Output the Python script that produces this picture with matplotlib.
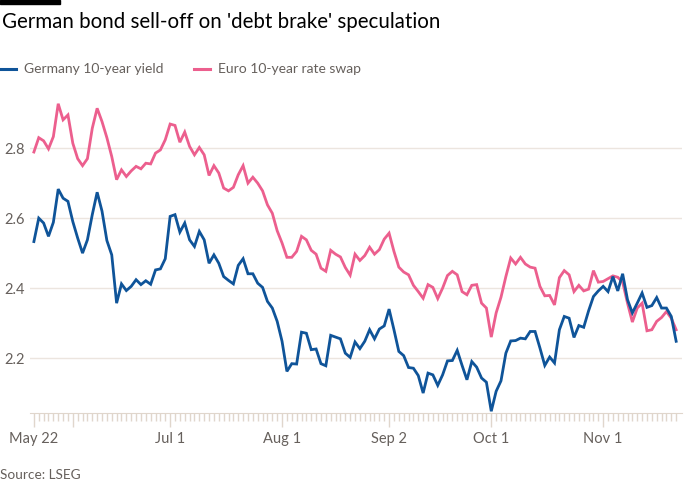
import matplotlib
matplotlib.use("Agg")
import matplotlib.pyplot as plt
import pandas as pd

# business days, 22 May - 22 Nov 2024
dates = pd.bdate_range("2024-05-22", "2024-11-22")

germany_10y = [
    2.533, 2.600, 2.586, 2.548, 2.588, 2.683, 2.657, 2.648, 2.590, 2.543,
    2.500, 2.538, 2.610, 2.674, 2.620, 2.536, 2.495, 2.357, 2.412, 2.393,
    2.405, 2.424, 2.410, 2.421, 2.411, 2.452, 2.455, 2.484, 2.605, 2.610,
    2.560, 2.586, 2.538, 2.519, 2.562, 2.538, 2.471, 2.495, 2.471, 2.433,
    2.422, 2.412, 2.465, 2.484, 2.441, 2.441, 2.414, 2.402, 2.362, 2.343,
    2.305, 2.248, 2.162, 2.184, 2.183, 2.274, 2.271, 2.224, 2.226, 2.184,
    2.178, 2.265, 2.260, 2.255, 2.214, 2.202, 2.246, 2.227, 2.248, 2.281,
    2.255, 2.283, 2.292, 2.340, 2.281, 2.219, 2.207, 2.173, 2.171, 2.150,
    2.100, 2.157, 2.152, 2.122, 2.152, 2.192, 2.193, 2.222, 2.179, 2.138,
    2.190, 2.174, 2.143, 2.131, 2.048, 2.105, 2.135, 2.214, 2.249, 2.250,
    2.257, 2.255, 2.276, 2.276, 2.229, 2.179, 2.203, 2.186, 2.281, 2.319,
    2.314, 2.259, 2.293, 2.288, 2.335, 2.376, 2.392, 2.405, 2.390, 2.433,
    2.392, 2.441, 2.367, 2.329, 2.357, 2.386, 2.345, 2.350, 2.373, 2.343,
    2.343, 2.319, 2.248,
]

euro_swap_10y = [
    2.789, 2.830, 2.821, 2.798, 2.833, 2.927, 2.881, 2.895, 2.814, 2.770,
    2.750, 2.770, 2.857, 2.914, 2.876, 2.830, 2.776, 2.710, 2.738, 2.719,
    2.735, 2.748, 2.741, 2.757, 2.755, 2.786, 2.795, 2.824, 2.869, 2.865,
    2.817, 2.846, 2.805, 2.781, 2.802, 2.781, 2.722, 2.750, 2.729, 2.686,
    2.678, 2.688, 2.724, 2.750, 2.700, 2.717, 2.700, 2.678, 2.638, 2.614,
    2.564, 2.529, 2.488, 2.488, 2.505, 2.548, 2.538, 2.508, 2.497, 2.457,
    2.448, 2.508, 2.497, 2.489, 2.459, 2.437, 2.497, 2.479, 2.493, 2.517,
    2.497, 2.510, 2.540, 2.557, 2.505, 2.460, 2.446, 2.438, 2.408, 2.390,
    2.371, 2.410, 2.402, 2.370, 2.400, 2.436, 2.448, 2.438, 2.390, 2.381,
    2.408, 2.410, 2.357, 2.343, 2.260, 2.329, 2.374, 2.433, 2.486, 2.469,
    2.488, 2.469, 2.460, 2.457, 2.405, 2.378, 2.379, 2.352, 2.430, 2.450,
    2.438, 2.390, 2.408, 2.392, 2.397, 2.450, 2.417, 2.419, 2.427, 2.435,
    2.431, 2.417, 2.357, 2.303, 2.343, 2.357, 2.278, 2.281, 2.305, 2.316,
    2.333, 2.314, 2.281,
]

tick_dates = ["2024-05-22", "2024-06-03", "2024-07-01", "2024-08-01",
              "2024-09-02", "2024-10-01", "2024-11-01"]
tick_labels = ["May 22", "", "Jul 1", "Aug 1", "Sep 2", "Oct 1", "Nov 1"]
y_ticks = [2.2, 2.4, 2.6, 2.8]

BLUE = "#0f5499"
PINK = "#ec5f8e"
GREY = "#66605c"
GRID = "#ece5df"
FONT = "Lato"

fig = plt.figure(figsize=(7, 5), dpi=100)
ax = fig.add_axes([30 / 700, 1 - 413 / 500, 652 / 700, 318 / 500])

x = list(range(len(dates)))
ax.plot(x, euro_swap_10y, color=PINK, lw=2.0, solid_joinstyle="miter")
ax.plot(x, germany_10y, color=BLUE, lw=2.0, solid_joinstyle="miter")

ax.set_xlim(-0.8, 133.2)
ax.set_ylim(2.043, 2.952)

ax.set_yticks(y_ticks)
ax.set_yticklabels([f"{v:.1f}" for v in y_ticks], fontsize=10.5,
                   color=GREY, family=FONT)
ax.tick_params(axis="y", length=0, pad=4)
ax.grid(axis="y", color=GRID, lw=1)

major_pos = [dates.get_loc(pd.Timestamp(d)) for d in tick_dates]
ax.set_xticks(major_pos)
ax.set_xticklabels(tick_labels, fontsize=10.5, color=GREY, family=FONT)
ax.set_xticks(x, minor=True)
ax.tick_params(axis="x", which="major", length=10, width=1, color="#e0d6cc",
               pad=4)
ax.tick_params(axis="x", which="minor", length=6, width=1, color="#e0d6cc")

for s in ["top", "right", "left"]:
    ax.spines[s].set_visible(False)
ax.spines["bottom"].set_color("#e0d6cc")
ax.set_axisbelow(True)

# black bar top-left
fig.patches.append(plt.Rectangle((0, 1 - 4 / 500), 60 / 700, 4 / 500,
                                 transform=fig.transFigure, color="black"))

fig.text(2 / 700, 1 - 22 / 500, "German bond sell-off on 'debt brake' speculation",
         fontsize=14.8, family=FONT, color="#000000", va="center")

# legend
fig.add_artist(plt.Line2D([0, 16 / 700], [1 - 69 / 500] * 2, color=BLUE, lw=2.2))
fig.text(24 / 700, 1 - 69 / 500, "Germany 10-year yield", fontsize=10,
         family=FONT, color=GREY, va="center")
fig.add_artist(plt.Line2D([194 / 700, 210 / 700], [1 - 69 / 500] * 2, color=PINK, lw=2.2))
fig.text(218 / 700, 1 - 69 / 500, "Euro 10-year rate swap", fontsize=10,
         family=FONT, color=GREY, va="center")

fig.text(0, 1 - 475 / 500, "Source: LSEG", fontsize=9.8, family=FONT,
         color=GREY, va="center")

fig.savefig("out.png", dpi=100, facecolor="white")
